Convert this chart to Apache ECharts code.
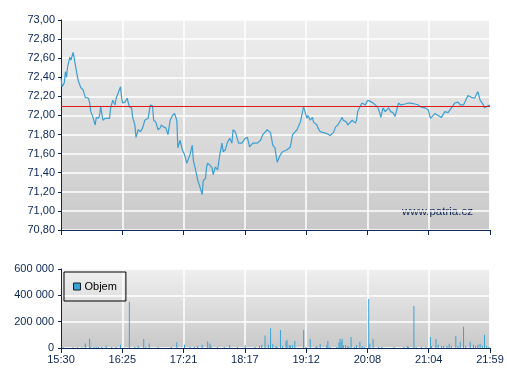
<!DOCTYPE html>
<html>
<head>
<meta charset="utf-8">
<script src="https://cdn.jsdelivr.net/npm/echarts@6/dist/echarts.min.js"></script>
<style>
html,body{margin:0;padding:0;background:#fff;}
#chart{width:507px;height:380px;}
</style>
</head>
<body>
<div id="chart"></div>
<script>
// Minutes after 15:30 for each price sample
var priceTimes = [
  0,1,3,4,5,6,8,9,11,13,
  14,15,16,17,18,20,22,25,26,27,
  29,31,32,34,35,36,38,40,41,44,
  45,47,49,50,52,54,55,56,58,59,
  60,61,62,64,65,67,68,70,72,74,
  76,77,79,81,83,84,86,88,90,91,
  93,94,95,97,99,101,103,104,105,106,
  108,110,112,114,117,119,120,123,124,126,
  128,129,131,132,133,135,137,138,140,142,
  144,146,147,149,151,153,155,156,158,161,
  164,167,169,171,174,178,181,183,187,190,
  192,194,196,197,199,201,205,206,208,210,
  214,215,217,218,219,220,223,224,226,228,
  229,232,233,235,238,241,244,247,249,251,
  255,256,259,260,264,267,268,269,271,273,
  276,278,280,283,287,289,290,292,294,297,
  299,301,303,304,306,308,312,315,317,321,
  324,326,330,333,335,336,339,342,345,348,
  351,354,357,360,362,365,367,369,372,375,
  378,380,383,384,387,389
];
var priceValues = [
  72.39,72.30,72.34,72.46,72.40,72.51,72.61,72.58,72.66,72.53,
  72.55,72.40,72.35,72.37,72.29,72.27,72.19,72.18,72.13,72.04,
  71.98,71.90,71.98,71.97,72.00,72.09,71.95,71.97,71.98,71.97,
  72.08,72.16,72.11,72.18,72.24,72.30,72.18,72.13,72.14,72.13,
  72.18,72.16,72.09,72.08,71.98,71.90,71.77,71.85,71.83,71.87,
  71.95,71.97,71.97,72.11,72.10,71.95,71.93,71.85,71.87,71.90,
  71.88,71.90,71.87,71.80,71.95,72.00,72.02,72.03,71.95,71.66,
  71.74,71.64,71.59,71.50,71.59,71.69,71.53,71.38,71.32,71.25,
  71.17,71.32,71.34,71.46,71.50,71.48,71.45,71.38,71.46,71.43,
  71.59,71.71,71.62,71.64,71.72,71.76,71.71,71.85,71.83,71.71,
  71.71,71.76,71.77,71.67,71.71,71.71,71.74,71.80,71.85,71.82,
  71.69,71.66,71.51,71.53,71.59,71.62,71.64,71.62,71.67,71.80,
  71.85,71.83,71.93,71.98,72.04,72.09,71.97,72.00,71.95,71.98,
  71.93,71.90,71.87,71.83,71.82,71.81,71.79,71.82,71.88,71.90,
  71.98,71.95,71.93,71.90,71.95,71.92,71.95,72.04,72.09,72.13,
  72.11,72.16,72.15,72.13,72.09,72.03,71.98,72.08,72.04,72.08,
  72.04,72.03,71.99,72.00,72.13,72.11,72.12,72.13,72.13,72.12,
  72.11,72.09,72.08,72.06,71.97,71.98,72.02,72.00,71.98,72.04,
  72.03,72.08,72.13,72.14,72.11,72.11,72.16,72.21,72.19,72.18,
  72.25,72.16,72.11,72.08,72.10,72.11
];
var prevClose = 72.10;

var volumeTimes = [
  2,11,15,19,22,26,27,30,32,34,
  37,41,46,50,54,62,67,70,75,77,
  80,88,100,105,112,117,121,124,128,133,
  135,136,142,148,153,160,167,176,180,182,
  185,188,190,192,195,196,199,201,204,205,
  207,208,210,212,220,222,226,231,232,235,
  241,242,244,250,252,253,254,255,256,258,
  260,261,263,266,268,271,273,275,279,280,
  283,288,291,302,311,314,315,320,322,327,
  331,335,336,340,342,345,347,350,352,354,
  358,360,362,365,367,371,374,376,378,380,
  382,384,386,388
];
var volumeValues = [
  5000,5000,5000,5000,35000,71000,8000,8000,8000,8000,
  8000,18000,8000,8000,25000,352000,8000,15000,68000,8000,
  35000,8000,8000,43000,25000,8000,8000,15000,25000,50000,
  35000,15000,8000,8000,20000,8000,20000,8000,15000,25000,
  94000,25000,150000,30000,15000,8000,137000,15000,53000,61000,
  20000,20000,20000,53000,137000,8000,68000,8000,15000,30000,
  20000,53000,8000,8000,40000,71000,50000,71000,20000,20000,
  15000,8000,84000,8000,20000,48000,15000,8000,372000,33000,
  68000,8000,8000,8000,8000,15000,8000,319000,8000,8000,
  8000,84000,15000,68000,25000,15000,15000,15000,33000,15000,
  91000,15000,48000,162000,15000,48000,25000,15000,25000,33000,
  15000,101000,15000,8000
];

var tickLabels = ["15:30","16:25","17:21","18:17","19:12","20:08","21:04","21:59"];
var spanMinutes = 389;
var step = spanMinutes / (tickLabels.length - 1);

var navy = '#0b2555';
var font = 'Liberation Sans, Arial, sans-serif';

function pairs(xs, ys) {
  var out = [];
  for (var i = 0; i < xs.length; i++) out.push([xs[i], ys[i]]);
  return out;
}
function bg() {
  return new echarts.graphic.LinearGradient(0, 0, 0, 1, [
    {offset: 0, color: '#efefef'},
    {offset: 1, color: '#c9c9c9'}
  ]);
}
function xAxisCfg(gridIndex, showLabels) {
  return {
    type: 'value', gridIndex: gridIndex, min: 0, max: spanMinutes, interval: step,
    axisLine: {show: true, lineStyle: {color: navy, width: 1}},
    axisTick: {show: true, length: 5, lineStyle: {color: navy}},
    splitLine: {show: true, lineStyle: {color: '#ffffff', width: 1.5}},
    axisLabel: {
      show: showLabels, color: navy, fontFamily: font, fontSize: 11, margin: 6,
      formatter: function (v) { return tickLabels[Math.round(v / step)] || ''; }
    }
  };
}

var chart = echarts.init(document.getElementById('chart'), null, {renderer: 'canvas'});
chart.setOption({
  animation: false,
  backgroundColor: '#ffffff',
  grid: [
    {left: 61, top: 20, width: 429, height: 210, show: true, backgroundColor: bg(), borderWidth: 0},
    {left: 61, top: 269, width: 429, height: 79, show: true, backgroundColor: bg(), borderWidth: 0}
  ],
  legend: {
    data: ['Objem'],
    left: 64, top: 272,
    orient: 'horizontal',
    padding: [9, 9, 9, 9],
    borderColor: '#000000', borderWidth: 1,
    icon: 'rect', itemWidth: 7, itemHeight: 7, itemGap: 4,
    itemStyle: {borderColor: '#102030', borderWidth: 1},
    textStyle: {color: '#000000', fontFamily: font, fontSize: 11, padding: [0, 0, 0, -1]},
    selectedMode: false
  },
  xAxis: [xAxisCfg(0, false), xAxisCfg(1, true)],
  yAxis: [
    {
      type: 'value', gridIndex: 0, min: 70.8, max: 73, interval: 0.2,
      axisLine: {show: true, lineStyle: {color: navy, width: 1}},
      axisTick: {show: true, length: 3, lineStyle: {color: navy}},
      splitLine: {show: true, lineStyle: {color: '#ffffff', width: 1.5}},
      axisLabel: {
        color: navy, fontFamily: font, fontSize: 11, margin: 6,
        formatter: function (v) { return v.toFixed(2).replace('.', ','); }
      }
    },
    {
      type: 'value', gridIndex: 1, min: 0, max: 600000, interval: 200000,
      axisLine: {show: true, lineStyle: {color: navy, width: 1}},
      axisTick: {show: true, length: 3, lineStyle: {color: navy}},
      splitLine: {show: true, lineStyle: {color: '#ffffff', width: 1.5}},
      axisLabel: {
        color: navy, fontFamily: font, fontSize: 11, margin: 7,
        formatter: function (v) { return String(v).replace(/\B(?=(\d{3})+(?!\d))/g, ' '); }
      }
    }
  ],
  series: [
    {
      name: 'Cena', type: 'line', xAxisIndex: 0, yAxisIndex: 0,
      data: pairs(priceTimes, priceValues),
      showSymbol: false, symbol: 'none',
      lineStyle: {color: '#3c9fd1', width: 1.2},
      z: 3,
      markLine: {
        silent: true, symbol: ['none', 'none'],
        label: {show: false},
        lineStyle: {color: '#e01818', width: 1, type: 'solid'},
        data: [{yAxis: prevClose}]
      }
    },
    {
      name: 'Objem', type: 'bar', xAxisIndex: 1, yAxisIndex: 1,
      data: pairs(volumeTimes, volumeValues),
      barWidth: 1,
      itemStyle: {color: '#3ba3d4'},
      z: 3
    }
  ],
  graphic: [
    {
      type: 'text', left: 402, top: 206,
      style: {text: 'www.patria.cz', fill: navy, font: '11.5px ' + font}
    }
  ]
});
</script>
</body>
</html>
